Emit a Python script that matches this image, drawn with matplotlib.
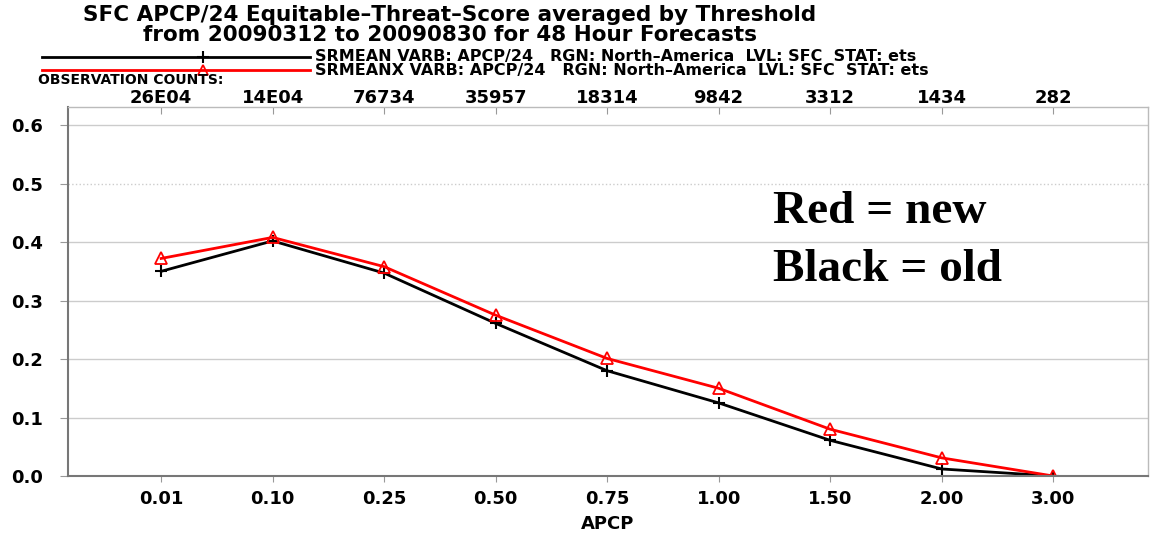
import matplotlib
matplotlib.use("Agg")
import matplotlib.pyplot as plt
import numpy as np

plt.rcParams["font.family"] = ["DejaVu Sans"]

umbrales = ["0.01", "0.10", "0.25", "0.50", "0.75", "1.00", "1.50", "2.00", "3.00"]
conteos = ["26E04", "14E04", "76734", "35957", "18314", "9842", "3312", "1434", "282"]
ets_srmean = [0.350, 0.402, 0.347, 0.261, 0.180, 0.125, 0.061, 0.012, 0.0]
ets_srmeanx = [0.372, 0.408, 0.358, 0.275, 0.201, 0.150, 0.080, 0.031, 0.0]

fig = plt.figure(figsize=(11.53, 5.40), dpi=100)
ax = fig.add_axes([68 / 1153, 1 - 476 / 540, (1148 - 68) / 1153, (476 - 107) / 540])

x = np.arange(len(umbrales))
ax.plot(x, ets_srmean, color="black", lw=2, marker="+", ms=9, mew=1.5)
ax.plot(x, ets_srmeanx, color="red", lw=2, marker="^", ms=8, mfc="none", mew=1.3)

ax.set_xlim(-0.835, 8.85)
ax.set_ylim(0, 0.631)
ax.set_yticks([0, 0.1, 0.2, 0.3, 0.4, 0.5, 0.6])
ax.set_yticklabels(["0.0", "0.1", "0.2", "0.3", "0.4", "0.5", "0.6"],
                   fontsize=13, fontweight="bold")
ax.set_xticks(x)
ax.set_xticklabels(umbrales, fontsize=13, fontweight="bold")
ax.tick_params(axis="x", length=4, color="#999999", pad=6)
ax.tick_params(axis="y", length=6, color="#999999", pad=12)

for v in [0.1, 0.2, 0.3, 0.4, 0.6]:
    ax.axhline(v, color="#cccccc", lw=1, zorder=0)
ax.axhline(0.5, color="#cccccc", lw=1, ls=":", zorder=0)

for lado in ["left", "bottom"]:
    ax.spines[lado].set_color("#777777")
    ax.spines[lado].set_linewidth(1.5)
for lado in ["top", "right"]:
    ax.spines[lado].set_color("#bbbbbb")
    ax.spines[lado].set_linewidth(1)

ax_top = ax.secondary_xaxis("top")
ax_top.set_xticks(x)
ax_top.set_xticklabels(conteos, fontsize=13, fontweight="bold")
ax_top.tick_params(direction="in", length=5, color="#999999", pad=0)
ax_top.spines["top"].set_visible(False)

ax.set_xlabel("APCP", fontsize=13, fontweight="bold", labelpad=5)

fig.text(450 / 1153, 1 - 15 / 540, "SFC APCP/24 Equitable\u2013Threat\u2013Score averaged by Threshold",
         ha="center", va="center", fontsize=15.5, fontweight="bold")
fig.text(450 / 1153, 1 - 35 / 540, "from 20090312 to 20090830 for 48 Hour Forecasts",
         ha="center", va="center", fontsize=15.5, fontweight="bold")

fig.add_artist(plt.Line2D([42 / 1153, 310 / 1153], [1 - 57 / 540] * 2, color="black", lw=2))
fig.add_artist(plt.Line2D([203 / 1153], [1 - 57 / 540], color="black", marker="+", ms=8, mew=1.5))
fig.add_artist(plt.Line2D([42 / 1153, 310 / 1153], [1 - 70 / 540] * 2, color="red", lw=2))
fig.add_artist(plt.Line2D([203 / 1153], [1 - 70 / 540], color="red", marker="^", ms=7,
                          mfc="none", mew=1.3))
fig.text(315 / 1153, 1 - 56 / 540,
         "SRMEAN VARB: APCP/24   RGN: North\u2013America  LVL: SFC  STAT: ets",
         va="center", fontsize=11.5, fontweight="bold")
fig.text(315 / 1153, 1 - 70 / 540,
         "SRMEANX VARB: APCP/24   RGN: North\u2013America  LVL: SFC  STAT: ets",
         va="center", fontsize=11.5, fontweight="bold")
fig.text(38 / 1153, 1 - 80 / 540, "OBSERVATION COUNTS:", va="center",
         fontsize=10, fontweight="bold")

fig.text(773 / 1153, 1 - 212 / 540, "Red = new", va="center", fontsize=34,
         fontweight="bold", family="Liberation Serif")
fig.text(773 / 1153, 1 - 270 / 540, "Black = old", va="center", fontsize=34,
         fontweight="bold", family="Liberation Serif")

fig.savefig("out.png", dpi=100)
